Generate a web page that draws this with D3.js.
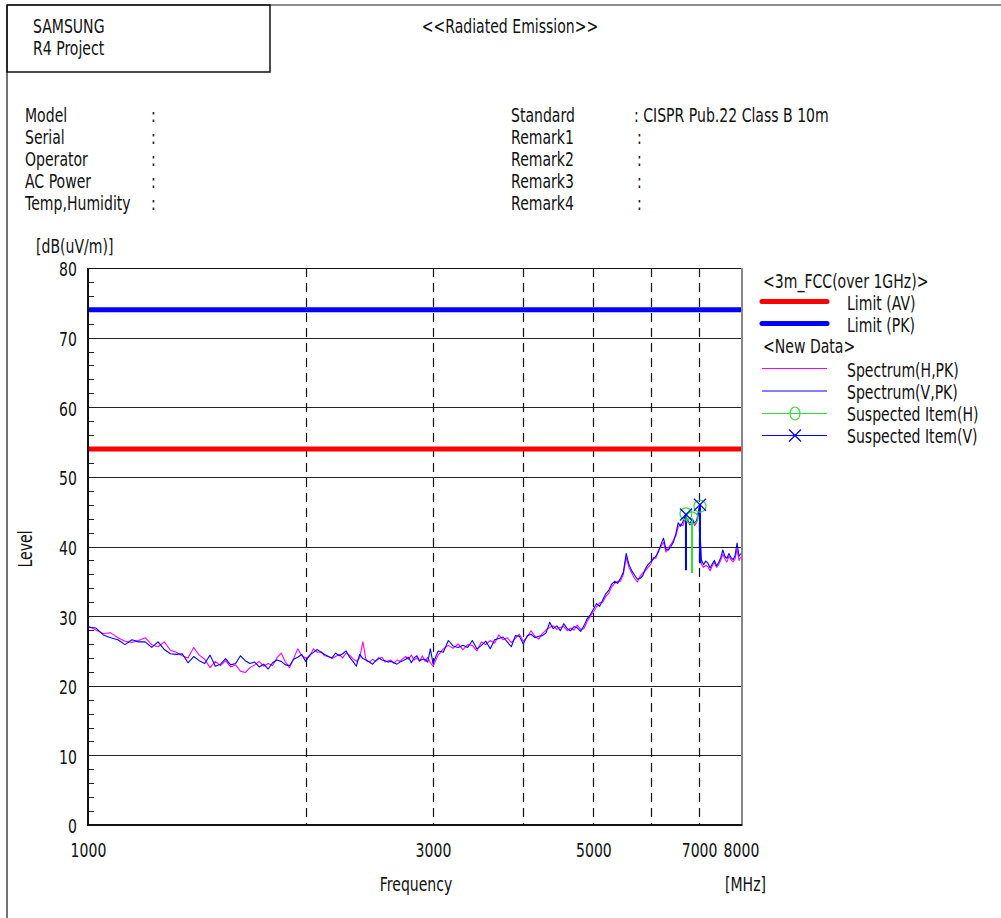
<!DOCTYPE html>
<html>
<head>
<meta charset="utf-8">
<script src="https://cdn.jsdelivr.net/npm/d3@7"></script>
<style>
  html, body { margin: 0; padding: 0; background: #fff; }
  svg { display: block; }
  text {
    font-family: "DejaVu Sans", "Liberation Sans", sans-serif;
    font-size: 19px;
    fill: #111;
  }
</style>
</head>
<body>
<svg id="chart" width="1001" height="918"></svg>
<script>
// ---- Header information ----
const headerLeftLabels = ["Model", "Serial", "Operator", "AC Power", "Temp,Humidity"];
const headerRightLabels = ["Standard", "Remark1", "Remark2", "Remark3", "Remark4"];
const headerRightValues = ["CISPR Pub.22 Class B 10m", "", "", "", ""];

// ---- Axis ticks ----
const xTickValues = [1000, 3000, 5000, 7000, 8000];
const xGridValues = [2000, 3000, 4000, 5000, 6000, 7000];
const yTickValues = [0, 10, 20, 30, 40, 50, 60, 70, 80];
const yMinorValues = [2, 4, 6, 8, 12, 14, 16, 18, 22, 24, 26, 28, 32, 34, 36, 38,
                      42, 44, 46, 48, 52, 54, 56, 58, 62, 64, 66, 68, 72, 74, 76, 78];

// ---- Limits (3m FCC, over 1 GHz) ----
const limitFreq = [1000, 8000];
const limitAV = [54, 54];
const limitPK = [74, 74];

// ---- Measured spectrum, MHz ----
const freqMHz = [
  1000, 1025, 1050, 1075, 1100, 1125, 1150, 1175, 1200, 1225,
  1250, 1275, 1300, 1325, 1350, 1375, 1400, 1425, 1450, 1475,
  1500, 1525, 1550, 1575, 1600, 1625, 1650, 1675, 1700, 1725,
  1750, 1775, 1800, 1825, 1850, 1875, 1900, 1925, 1950, 1975,
  2000, 2025, 2050, 2075, 2100, 2125, 2150, 2175, 2200, 2225,
  2250, 2275, 2300, 2325, 2350, 2375, 2400, 2425, 2450, 2475,
  2500, 2525, 2550, 2575, 2600, 2625, 2650, 2675, 2700, 2725,
  2750, 2775, 2800, 2825, 2850, 2875, 2900, 2925, 2950, 2975,
  3000,
  3050, 3100, 3150, 3200, 3250, 3300, 3350, 3400, 3450, 3500,
  3550, 3600, 3650, 3700, 3750, 3800, 3850, 3900, 3950, 4000,
  4050, 4100, 4150, 4200, 4250, 4300, 4350, 4400, 4450, 4500,
  4550, 4600, 4650, 4700, 4750, 4800, 4850, 4900, 4950, 5000,
  5050, 5100, 5150, 5200, 5250, 5300, 5350, 5400, 5450, 5500,
  5550, 5600, 5650, 5700, 5750, 5800, 5850, 5900, 5950, 6000,
  6050, 6100, 6150, 6200, 6250, 6300, 6350, 6400, 6450, 6500,
  6550, 6600, 6650, 6700, 6750, 6800, 6850, 6900, 6950, 7000,
  7050, 7100, 7150, 7200, 7250, 7300, 7350, 7400, 7450, 7500,
  7550, 7600, 7650, 7700, 7750, 7800, 7850, 7900, 7950, 8000
];

// Spectrum (H, PK), dB(uV/m)
const levelH = [
  28.6, 28.0, 27.5, 27.6, 26.9, 26.4, 26.2, 26.5, 26.9, 25.9,
  25.6, 26.3, 25.1, 24.8, 24.3, 24.0, 25.5, 24.4, 23.8, 22.6,
  23.5, 22.9, 23.6, 22.7, 23.0, 22.1, 21.9, 22.6, 23.0, 23.5,
  22.8, 23.2, 22.9, 24.0, 24.7, 23.4, 22.6, 23.9, 25.3, 24.3,
  24.0, 24.2, 25.3, 24.8, 24.9, 24.3, 24.2, 23.9, 24.2, 24.5,
  24.0, 24.7, 24.4, 23.9, 23.5, 24.0, 26.3, 23.6, 23.4, 23.8,
  23.5, 23.9, 24.1, 23.4, 23.6, 23.7, 23.2, 23.7, 23.5, 23.9,
  24.2, 23.8, 24.4, 23.7, 24.0, 23.5, 24.3, 23.5, 24.1, 23.3,
  22.8,
  24.4, 25.3, 25.8, 25.4, 26.0, 25.2, 25.9, 25.8, 25.0, 26.3,
  25.9, 26.5, 26.1, 27.3, 26.6, 26.9, 26.2, 26.8, 27.4, 26.4,
  27.0, 27.9, 27.1, 26.7, 27.5, 28.0, 28.4, 28.6, 28.1, 28.4,
  28.5, 27.9, 28.3, 28.0, 28.7, 28.1, 28.2, 29.2, 30.0, 30.6,
  31.3, 31.9, 32.0, 32.8, 33.3, 34.2, 34.7, 35.0, 35.0, 36.0,
  38.4, 37.0, 36.2, 35.4, 34.9, 35.7, 36.2, 36.5, 37.0, 37.4,
  38.4, 38.3, 39.5, 40.0, 40.6, 39.2, 39.8, 40.3, 40.9, 41.5,
  42.8, 43.2, 43.0, 44.2, 43.5, 43.4, 43.9, 43.0, 43.5, 45.2,
  37.5, 37.0, 37.3, 37.1, 36.5, 37.2, 37.7, 37.0, 37.4, 38.0,
  38.9, 38.2, 37.8, 38.6, 38.1, 37.8, 38.2, 39.6, 38.0, 38.5
];

// Spectrum (V, PK), dB(uV/m)
const levelV = [
  28.4, 28.3, 27.3, 26.9, 26.6, 25.9, 26.6, 26.3, 26.3, 25.5,
  26.3, 25.2, 24.6, 24.5, 24.6, 23.3, 24.2, 23.6, 23.2, 24.4,
  22.8, 23.1, 23.9, 23.0, 23.2, 24.3, 23.6, 23.2, 23.4, 22.7,
  23.1, 22.4, 23.3, 23.7, 23.5, 23.0, 22.9, 23.8, 24.1, 24.5,
  23.5, 24.4, 24.8, 25.2, 24.8, 24.5, 24.2, 24.0, 24.7, 24.3,
  24.6, 25.0, 24.1, 23.5, 22.8, 24.5, 23.9, 23.7, 23.4, 23.1,
  23.6, 24.0, 23.7, 23.6, 23.4, 23.5, 23.3, 23.1, 23.4, 23.6,
  23.8, 24.1, 23.3, 24.0, 24.3, 23.6, 23.8, 23.8, 23.4, 25.3,
  23.2,
  25.0, 24.8, 26.5, 25.7, 25.5, 25.8, 25.5, 26.5, 25.3, 25.8,
  26.4, 25.3, 26.6, 26.8, 27.0, 26.3, 25.6, 27.2, 27.1, 26.0,
  27.2, 27.4, 26.9, 27.1, 27.2, 27.6, 29.1, 28.2, 28.6, 27.9,
  28.9, 28.2, 27.9, 28.5, 28.3, 27.8, 28.6, 29.6, 30.2, 31.0,
  31.8, 31.4, 32.3, 33.2, 33.7, 34.6, 35.0, 34.7, 35.4, 36.3,
  39.0, 37.4, 36.5, 35.9, 35.3, 35.4, 35.8, 36.8, 37.4, 37.8,
  38.2, 38.6, 39.2, 40.3, 41.2, 39.6, 39.5, 40.0, 40.6, 41.8,
  43.4, 42.9, 43.6, 44.5, 43.8, 43.1, 44.0, 43.3, 43.8, 45.6,
  38.1, 37.4, 37.9, 37.6, 36.9, 37.5, 38.0, 37.2, 37.7, 38.4,
  39.5, 38.6, 38.3, 39.0, 38.4, 38.1, 38.7, 40.5, 38.6, 39.0
];

// ---- Suspected items ----
const suspHFreq = [6714, 6845, 7020];
const suspHLevel = [44.7, 44.1, 45.8];
const suspHFloor = [36.6, 36.2, 37.6];
const suspVFreq = [6714, 7020];
const suspVLevel = [44.6, 46.0];
const suspVFloor = [36.6, 37.6];

// ---- Colours ----
const colRed = "#ff0000";
const colBlue = "#0000ff";
const colMagenta = "#ff00ff";
const colGreen = "#2ee02e";

// Horizontal squeeze used for all lettering (narrow report font)
const TEXT_SX = 0.74;
const TICK_SX = 0.74;

// ---- Layout ----
const svg = d3.select("#chart");
const plot = { left: 88, right: 741, top: 268, bottom: 825 };

const x = d3.scaleLog().domain([1000, 8000]).range([plot.left, plot.right]);
const y = d3.scaleLinear().domain([0, 80]).range([plot.bottom, plot.top]);

function addText(g, tx, ty, str, anchor, extra) {
  return g.append("text")
    .attr("transform", `translate(${tx},${ty}) ${extra || ""} scale(${TEXT_SX},1)`)
    .attr("text-anchor", anchor || "start")
    .text(str);
}

// Page frame and title box
svg.append("line").attr("x1", 7).attr("y1", 5).attr("x2", 1001).attr("y2", 5)
  .attr("stroke", "#666").attr("stroke-width", 1.5);
svg.append("line").attr("x1", 7).attr("y1", 5).attr("x2", 7).attr("y2", 918)
  .attr("stroke", "#444").attr("stroke-width", 1.5);
svg.append("rect").attr("x", 7).attr("y", 5).attr("width", 263).attr("height", 67)
  .attr("fill", "none").attr("stroke", "#111").attr("stroke-width", 1.5);

addText(svg, 33, 33, "SAMSUNG");
addText(svg, 33, 55, "R4 Project");
addText(svg, 510, 33, "<<Radiated Emission>>", "middle");

// Header fields
const rowY = (i) => 122 + i * 22;
headerLeftLabels.forEach((t, i) => {
  addText(svg, 25, rowY(i), t);
  addText(svg, 151, rowY(i), ":");
});
headerRightLabels.forEach((t, i) => {
  addText(svg, 511, rowY(i), t);
  const v = headerRightValues[i];
  addText(svg, v ? 634 : 637, rowY(i), v ? ": " + v : ":");
});

// Horizontal grid lines at major levels
svg.append("g").selectAll("line")
  .data(yTickValues.filter(v => v > 0 && v < 80))
  .join("line")
  .attr("x1", plot.left).attr("x2", plot.right)
  .attr("y1", d => Math.round(y(d)) + 0.5).attr("y2", d => Math.round(y(d)) + 0.5)
  .attr("stroke", "#222").attr("stroke-width", 1);

// Dashed vertical grid lines
svg.append("g").selectAll("line")
  .data(xGridValues)
  .join("line")
  .attr("x1", d => Math.round(x(d)) + 0.5).attr("x2", d => Math.round(x(d)) + 0.5)
  .attr("y1", plot.top).attr("y2", plot.bottom)
  .attr("stroke", "#111").attr("stroke-width", 1.2)
  .attr("stroke-dasharray", "9,6");

// Minor ticks on the level axis
svg.append("g").selectAll("line")
  .data(yMinorValues)
  .join("line")
  .attr("x1", plot.left).attr("x2", plot.left + 6)
  .attr("y1", d => Math.round(y(d)) + 0.5).attr("y2", d => Math.round(y(d)) + 0.5)
  .attr("stroke", "#222").attr("stroke-width", 1);

// Limit lines
const limitLine = d3.line().x(d => x(d[0])).y(d => y(d[1]));
svg.append("path")
  .datum(limitFreq.map((f, i) => [f, limitAV[i]]))
  .attr("d", limitLine).attr("fill", "none")
  .attr("stroke", colRed).attr("stroke-width", 5);
svg.append("path")
  .datum(limitFreq.map((f, i) => [f, limitPK[i]]))
  .attr("d", limitLine).attr("fill", "none")
  .attr("stroke", colBlue).attr("stroke-width", 5);

// Spectrum traces
const specLine = d3.line().x(d => x(d[0])).y(d => y(d[1]));
svg.append("path")
  .datum(freqMHz.map((f, i) => [f, levelH[i]]))
  .attr("d", specLine).attr("fill", "none")
  .attr("stroke", colMagenta).attr("stroke-width", 1.1)
  .attr("stroke-linejoin", "round");
svg.append("path")
  .datum(freqMHz.map((f, i) => [f, levelV[i]]))
  .attr("d", specLine).attr("fill", "none")
  .attr("stroke", colBlue).attr("stroke-width", 1.1)
  .attr("stroke-linejoin", "round");

// Suspected item drop lines
const suspH = suspHFreq.map((f, i) => ({ f, v: suspHLevel[i], lo: suspHFloor[i] }));
const suspV = suspVFreq.map((f, i) => ({ f, v: suspVLevel[i], lo: suspVFloor[i] }));

svg.append("g").selectAll("line").data(suspH).join("line")
  .attr("x1", d => x(d.f)).attr("x2", d => x(d.f))
  .attr("y1", d => y(d.v)).attr("y2", d => y(d.lo))
  .attr("stroke", colGreen).attr("stroke-width", 2);
svg.append("g").selectAll("line").data(suspV).join("line")
  .attr("x1", d => x(d.f)).attr("x2", d => x(d.f))
  .attr("y1", d => y(d.v)).attr("y2", d => y(d.lo))
  .attr("stroke", colBlue).attr("stroke-width", 2);

// Suspected item markers
svg.append("g").selectAll("circle").data(suspH).join("circle")
  .attr("cx", d => x(d.f)).attr("cy", d => y(d.v)).attr("r", 6)
  .attr("fill", "none").attr("stroke", colGreen).attr("stroke-width", 1.2);

function cross(g, cx, cy, s, color) {
  g.append("line").attr("x1", cx - s).attr("y1", cy - s).attr("x2", cx + s).attr("y2", cy + s)
    .attr("stroke", color).attr("stroke-width", 1.2);
  g.append("line").attr("x1", cx - s).attr("y1", cy + s).attr("x2", cx + s).attr("y2", cy - s)
    .attr("stroke", color).attr("stroke-width", 1.2);
}
const crossG = svg.append("g");
suspV.forEach(d => cross(crossG, x(d.f), y(d.v), 6, colBlue));

// Plot frame
svg.append("line").attr("x1", plot.left).attr("x2", plot.right)
  .attr("y1", plot.top + 0.5).attr("y2", plot.top + 0.5)
  .attr("stroke", "#111").attr("stroke-width", 1.2);
svg.append("line").attr("x1", plot.right + 1).attr("x2", plot.right + 1)
  .attr("y1", plot.top).attr("y2", plot.bottom + 1)
  .attr("stroke", "#888").attr("stroke-width", 2);
svg.append("line").attr("x1", plot.left).attr("x2", plot.left)
  .attr("y1", plot.top).attr("y2", plot.bottom + 1)
  .attr("stroke", "#111").attr("stroke-width", 2);
svg.append("line").attr("x1", plot.left - 1).attr("x2", plot.right + 1)
  .attr("y1", plot.bottom).attr("y2", plot.bottom)
  .attr("stroke", "#111").attr("stroke-width", 2);

// Axes (labels only; frame lines drawn above)
const yAxis = d3.axisLeft(y).tickValues(yTickValues).tickSize(0).tickPadding(11)
  .tickFormat(d3.format("d"));
const gy = svg.append("g").attr("transform", `translate(${plot.left},0)`).call(yAxis);
gy.select(".domain").remove();
gy.selectAll("text").attr("font-size", null).attr("font-family", null)
  .attr("x", -11 / TICK_SX).attr("transform", `scale(${TICK_SX},1)`)
  .attr("dy", "0.42em").style("fill", "#111");

const xAxis = d3.axisBottom(x).tickValues(xTickValues).tickSize(0).tickPadding(19)
  .tickFormat(d3.format("d"));
const gx = svg.append("g").attr("transform", `translate(0,${plot.bottom})`).call(xAxis);
gx.select(".domain").remove();
gx.selectAll("text").attr("font-size", null).attr("font-family", null)
  .attr("transform", `scale(${TICK_SX},1)`).style("fill", "#111");

// Axis titles
addText(svg, 36, 253, "[dB(uV/m)]");
addText(svg, 32, 549, "Level", "middle", "rotate(-90)");
addText(svg, 416, 891, "Frequency", "middle");
addText(svg, 725, 891, "[MHz]");

// Legend
const lg = svg.append("g");
const lx0 = 762, lx1 = 827, ltx = 847;
addText(lg, 763, 288, "<3m_FCC(over 1GHz)>");
lg.append("line").attr("x1", lx0).attr("x2", lx1).attr("y1", 301.5).attr("y2", 301.5)
  .attr("stroke", colRed).attr("stroke-width", 5).attr("stroke-linecap", "round");
addText(lg, ltx, 310, "Limit (AV)");
lg.append("line").attr("x1", lx0).attr("x2", lx1).attr("y1", 323.5).attr("y2", 323.5)
  .attr("stroke", colBlue).attr("stroke-width", 5).attr("stroke-linecap", "round");
addText(lg, ltx, 332, "Limit (PK)");
addText(lg, 763, 353, "<New Data>");
lg.append("line").attr("x1", lx0).attr("x2", lx1).attr("y1", 368.5).attr("y2", 368.5)
  .attr("stroke", colMagenta).attr("stroke-width", 1);
addText(lg, ltx, 377, "Spectrum(H,PK)");
lg.append("line").attr("x1", lx0).attr("x2", lx1).attr("y1", 391).attr("y2", 391)
  .attr("stroke", colBlue).attr("stroke-width", 1);
addText(lg, ltx, 399, "Spectrum(V,PK)");
lg.append("line").attr("x1", lx0).attr("x2", lx1).attr("y1", 413.5).attr("y2", 413.5)
  .attr("stroke", colGreen).attr("stroke-width", 1);
lg.append("ellipse").attr("cx", 795).attr("cy", 413.5).attr("rx", 5).attr("ry", 6.5)
  .attr("fill", "none").attr("stroke", colGreen).attr("stroke-width", 1.2);
addText(lg, ltx, 421, "Suspected Item(H)");
lg.append("line").attr("x1", lx0).attr("x2", lx1).attr("y1", 435.5).attr("y2", 435.5)
  .attr("stroke", colBlue).attr("stroke-width", 1);
cross(lg, 795, 435.5, 6, colBlue);
addText(lg, ltx, 443, "Suspected Item(V)");
</script>
</body>
</html>
